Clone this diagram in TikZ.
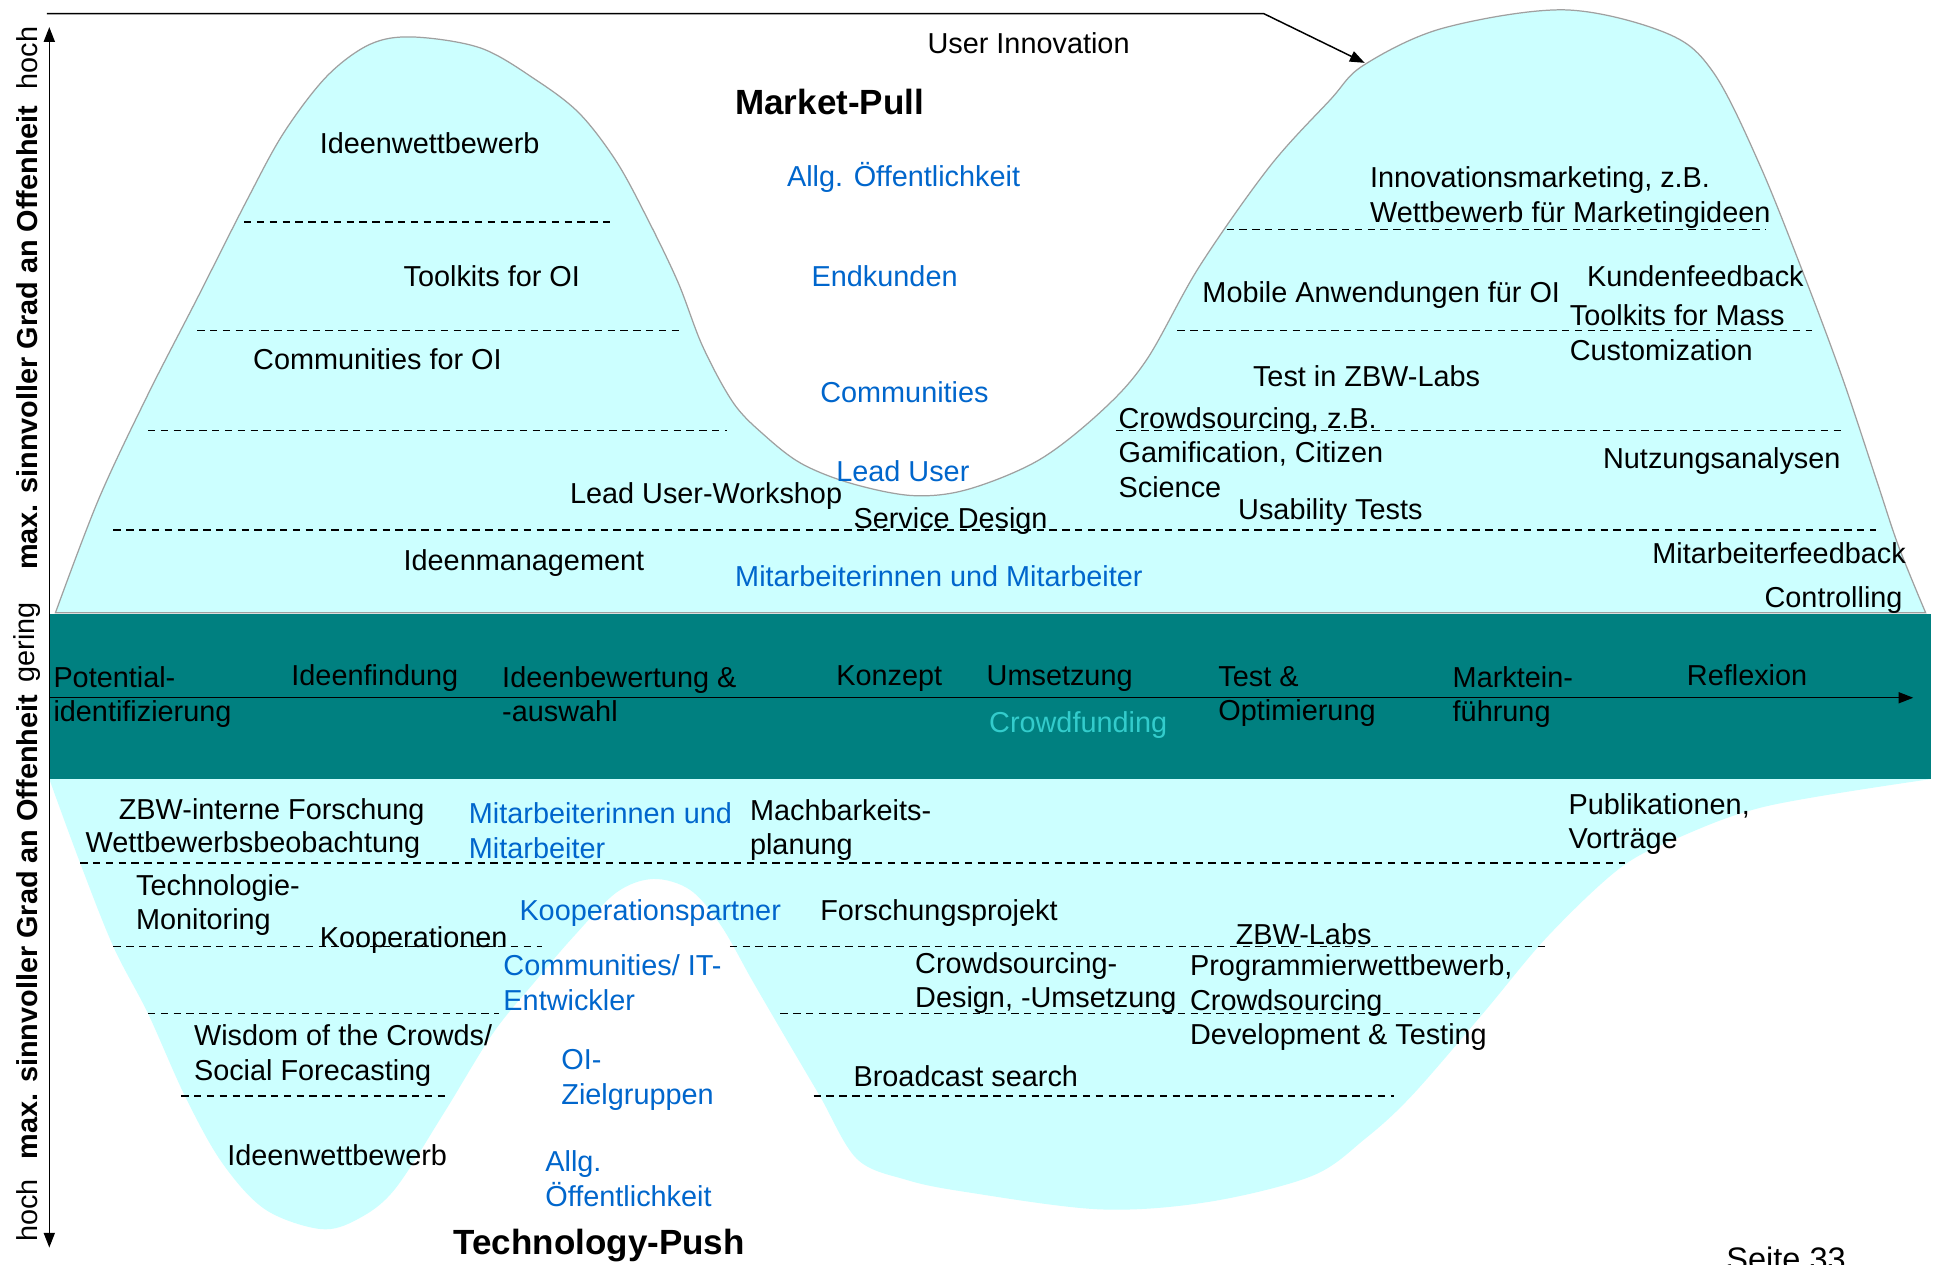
\documentclass[tikz,border=0pt]{standalone}
\usepackage{fontspec}
\setmainfont{Liberation Sans}
\usetikzlibrary{arrows.meta}
\definecolor{cyanfill}{HTML}{CCFFFF}
\definecolor{bandteal}{HTML}{008080}
\definecolor{oiblue}{HTML}{0066CC}
\definecolor{fundteal}{HTML}{33CCCC}
\definecolor{edgegray}{HTML}{A0A0A0}
\begin{document}
\begin{tikzpicture}[x=0.5pt,y=-0.5pt,
  txt/.style={anchor=north west, inner sep=0pt, align=left, yshift=7pt,
    font=\fontsize{11.7}{14}\selectfont, execute at begin node={\rule{0pt}{11pt}}},
  ml/.style={txt, yshift=-3pt},
  blu/.style={txt, text=oiblue},
  mlblu/.style={ml, text=oiblue},
  sep/.style={draw=black, line width=0.5pt, dash pattern=on 3pt off 2.2pt},
  tip/.style={line width=0.6pt},
  side/.style={rotate=90, inner sep=0pt, font=\fontsize{11.7}{14}\selectfont},
  sideb/.style={side, font=\fontsize{11.7}{14}\selectfont\bfseries},
  titlebox/.style={font=\fontsize{14.2}{17}\selectfont\bfseries, inner sep=0pt},
]
\useasboundingbox (0,0) rectangle (1568,1026);
\fill[white] (0,0) rectangle (1568,1026);

% upper shape (Market-Pull)
\filldraw[fill=cyanfill, draw=edgegray, line width=0.5pt]
  plot[smooth, tension=0.55] coordinates {(45,497) (80,405) (120,320) (160,242) (200,163) (230,108) (265,62) (300,36) (335,30) (390,39) (435,65) (470,92) (500,131) (525,177) (550,229) (570,281) (595,327) (620,353) (650,376) (690,392) (740,402) (785,397) (843,373) (894,333) (930,292) (973,216) (1030,135) (1079,81) (1106,53) (1170,23) (1269,8) (1352,27) (1390,59) (1428,135) (1466,230) (1495,308) (1522,389) (1540,443) (1562,497)} -- cycle;

% lower shape (Technology-Push)
\fill[cyanfill] (40,632) -- (1566,632) -- plot[smooth, tension=0.55] coordinates {(1566,632) (1433,654) (1358,681) (1313,705) (1255,760) (1203,822) (1145,889) (1107,924) (1064,954) (980,975) (892,981) (784,967) (735,957) (695,940) (665,889) (635,838) (610,795) (585,751) (560,722) (530,713) (500,724) (465,760) (435,795) (400,838) (360,903) (320,965) (290,989) (260,997) (215,981) (180,943) (150,889) (120,822) (92,768) (65,700) (40,632)} -- cycle;

% band
\fill[bandteal] (40,498) rectangle (1566,632);
\coordinate (bandL) at (40,566);
\coordinate (bandR) at (1552,566);
\draw[tip, -{Triangle[length=6pt,width=4.5pt]}] (bandL) -- (bandR);

% separators upper
\draw[sep] (198,180) -- (498,180);
\draw[sep] (160,268) -- (552,268);
\draw[sep] (120,349) -- (590,349);
\draw[sep] (92,430) -- (1522,430);
\draw[sep] (905,349) -- (1497,349);
\draw[sep] (955,268) -- (1470,268);
\draw[sep] (995,186) -- (1432,186);
% separators lower
\draw[sep] (65,700) -- (1318,700);
\draw[sep] (92,768) -- (440,768);
\draw[sep] (592,768) -- (1255,768);
\draw[sep] (120,822) -- (405,822);
\draw[sep] (633,822) -- (1202,822);
\draw[sep] (147,889) -- (362,889);
\draw[sep] (660,889) -- (1131,889);

% user innovation connector
\coordinate (ui0) at (38,11);
\coordinate (ui1) at (1025,11);
\coordinate (ui2) at (1107,51);
\draw[tip, -{Triangle[length=6pt,width=4.5pt]}] (ui0) -- (ui1) -- (ui2);
\node[txt] (ui) at (752,35) {User Innovation};

% axis
\coordinate (axT) at (40,22);
\coordinate (axB) at (40,1012);
\draw[tip, {Triangle[length=6pt,width=4.5pt]}-{Triangle[length=6pt,width=4.5pt]}] (axB) -- (axT);
\node[side] (h1) at (22,47) {hoch};
\node[sideb] (m1) at (22,274) {max. sinnvoller Grad an Offenheit};
\node[side] (g) at (22,521) {gering};
\node[sideb] (m2) at (22,752) {max. sinnvoller Grad an Offenheit};
\node[side] (h2) at (22,982) {hoch};

% titles
\node[titlebox] (mp) at (673,83) {Market-Pull};
\node[titlebox] (tp) at (486,1010) {Technology-Push};
\node[inner sep=0pt, anchor=west, font=\fontsize{13.2}{16}\selectfont] (seite) at (1400,1021) {Seite 33};

% upper left texts
\node[txt] (a1) at (259,116) {Ideenwettbewerb};
\node[txt] (a2) at (327,224) {Toolkits for OI};
\node[txt] (a3) at (205,291) {Communities for OI};
\node[txt] (a4) at (462,400) {Lead User-Workshop};
\node[txt] (a5) at (327,454) {Ideenmanagement};
\node[blu] (b1) at (638,143) {Allg. Öffentlichkeit};
\node[blu] (b2) at (658,224) {Endkunden};
\node[blu] (b3) at (665,318) {Communities};
\node[blu] (b4) at (678,382) {Lead User};
\node[blu] (b5) at (596,467) {Mitarbeiterinnen und Mitarbeiter};
\node[txt] (a6) at (692,420) {Service Design};

% upper right texts
\node[ml] (c1) at (1111,143) {Innovationsmarketing, z.B.\\Wettbewerb für Marketingideen};
\node[txt] (c2) at (975,237) {Mobile Anwendungen für OI};
\node[txt] (c3) at (1287,224) {Kundenfeedback};
\node[ml] (c4) at (1273,255) {Toolkits for Mass\\Customization};
\node[txt] (c5) at (1016,305) {Test in ZBW-Labs};
\node[ml] (c6) at (907,338) {Crowdsourcing, z.B.\\Gamification, Citizen\\Science};
\node[txt] (c7) at (1004,413) {Usability Tests};
\node[txt] (c8) at (1300,372) {Nutzungsanalysen};
\node[txt] (c9) at (1340,449) {Mitarbeiterfeedback};
\node[txt] (c10) at (1431,484) {Controlling};

% band texts
\node[ml] (p1) at (43,548) {Potential-\\identifizierung};
\node[txt] (p2) at (236,548) {Ideenfindung};
\node[ml] (p3) at (407,548) {Ideenbewertung \&\\-auswahl};
\node[txt] (p4) at (678,548) {Konzept};
\node[txt] (p5) at (800,548) {Umsetzung};
\node[txt, text=fundteal] (p5b) at (802,586) {Crowdfunding};
\node[ml] (p6) at (988,548) {Test \&\\Optimierung};
\node[ml] (p7) at (1178,548) {Marktein-\\führung};
\node[txt] (p8) at (1368,548) {Reflexion};

% lower texts
\node[txt] (d1) at (96,656) {ZBW-interne Forschung};
\node[txt] (d2) at (69,683) {Wettbewerbsbeobachtung};
\node[mlblu] (e1) at (380,659) {Mitarbeiterinnen und\\Mitarbeiter};
\node[ml] (d3) at (608,656) {Machbarkeits-\\planung};
\node[ml] (d4) at (1272,651) {Publikationen,\\Vorträge};
\node[ml] (d5) at (110,717) {Technologie-\\Monitoring};
\node[txt] (d6) at (259,760) {Kooperationen};
\node[blu] (e2) at (421,738) {Kooperationspartner};
\node[txt] (d7) at (665,738) {Forschungsprojekt};
\node[txt] (d8) at (1002,758) {ZBW-Labs};
\node[mlblu] (e3) at (408,782) {Communities/ IT-\\Entwickler};
\node[ml] (d9) at (742,780) {Crowdsourcing-\\Design, -Umsetzung};
\node[ml] (d10) at (965,782) {Programmierwettbewerb,\\Crowdsourcing\\Development \& Testing};
\node[ml] (d11) at (157,839) {Wisdom of the Crowds/\\Social Forecasting};
\node[mlblu] (e4) at (455,859) {OI-\\Zielgruppen};
\node[txt] (d12) at (692,873) {Broadcast search};
\node[txt] (d13) at (184,937) {Ideenwettbewerb};
\node[mlblu] (e5) at (442,941) {Allg.\\Öffentlichkeit};
\end{tikzpicture}
\end{document}
